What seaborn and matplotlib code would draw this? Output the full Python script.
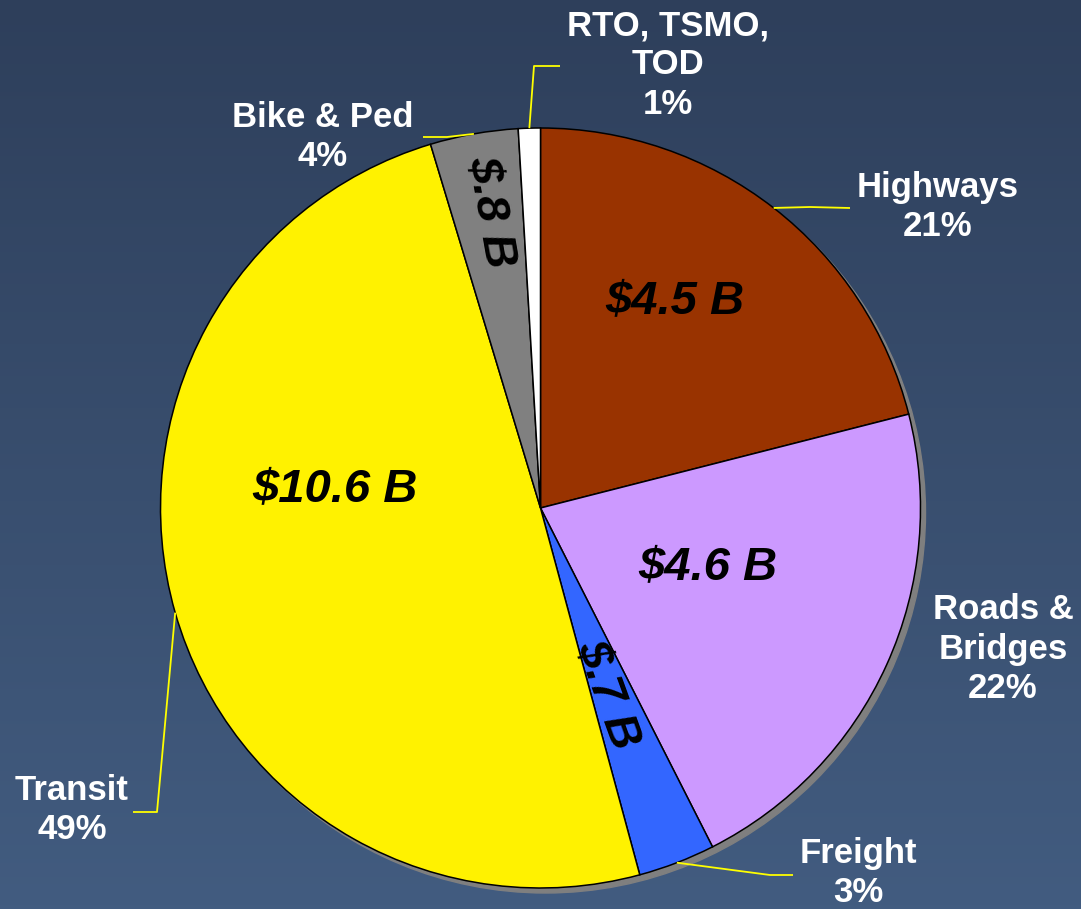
"""
Funding split pie chart (transport plan), dark blue slide background.
"""
import numpy as np
import matplotlib
matplotlib.use("Agg")
import matplotlib.pyplot as plt
from matplotlib.patches import Circle
import seaborn as sns

# data, clockwise from 12 o'clock
categories = ["Highways", "Roads &\nBridges", "Freight", "Transit", "Bike & Ped", "RTO, TSMO,\nTOD"]
billions = [4.5, 4.6, 0.7, 10.6, 0.8, 0.2]
pct_labels = ["21%", "22%", "3%", "49%", "4%", "1%"]
amount_labels = ["$4.5 B", "$4.6 B", "$.7 B", "$10.6 B", "$.8 B", ""]
colors = ["#993300", "#CC99FF", "#3366FF", "#FFF200", "#808080", "#FFFFFF"]

W, H = 1081, 909

sns.set_style("white")
plt.rcParams["font.family"] = ["Liberation Sans", "DejaVu Sans"]


def Y(y):
    # read positions are top-down pixels
    return H - y


fig = plt.figure(figsize=(W / 100, H / 100), dpi=100)
ax = fig.add_axes([0, 0, 1, 1])

# vertical gradient background
grad = np.linspace(0, 1, 256)[:, None]
top = np.array([0x2E, 0x3F, 0x5B]) / 255
bot = np.array([0x42, 0x5C, 0x80]) / 255
img = top + (bot - top) * grad[..., None]
ax.imshow(img, extent=[0, W, 0, H], aspect="auto", origin="upper", zorder=0)

cx, cy, r = 540.5, Y(508), 380

# drop shadow
ax.add_patch(Circle((cx + 5, cy - 5), r, color="#7F7F7F", zorder=1))

wedges, _ = ax.pie(billions, colors=colors, startangle=90, counterclock=False,
                   center=(cx, cy), radius=r,
                   wedgeprops=dict(edgecolor="black", linewidth=1.1, zorder=2))
for w in wedges:
    w.set_zorder(2)

# amounts inside the slices (x, y, rotation)
inner_pos = [(675, 302, 0), (708, 568, 0), (607, 695, -70), (335, 490, 0), (490, 212, -80), None]
for txt, pos in zip(amount_labels, inner_pos):
    if pos is None:
        continue
    ax.text(pos[0], Y(pos[1]), txt, rotation=pos[2], rotation_mode="anchor",
            ha="center", va="center", fontsize=34, fontweight="bold",
            fontstyle="italic", color="black", parse_math=False, zorder=4)

# outer labels and leader elbows
outer_pos = [(938, 207), (1003, 649), (858, 873), (72, 810), (323, 137), (668, 65)]
elbows = [(810, 207), None, (770, 875), (157, 812), (447, 137), (534, 66)]
ends = [(850, 208), None, (793, 875), (133, 812), (423, 137), (560, 66)]
for w, cat, pct, pos, el, en in zip(wedges, categories, pct_labels, outer_pos, elbows, ends):
    ax.text(pos[0], Y(pos[1]), f"{cat}\n{pct}", ha="center", va="center",
            fontsize=25, fontweight="bold", color="white", linespacing=1.24,
            parse_math=False, zorder=4)
    if el is None:
        continue
    mid = np.deg2rad((w.theta1 + w.theta2) / 2)
    sx, sy = cx + r * np.cos(mid), cy + r * np.sin(mid)
    ax.plot([sx, el[0], en[0]], [sy, Y(el[1]), Y(en[1])], color="#FFFF00",
            lw=1.3, zorder=3, solid_capstyle="butt")

ax.set_xlim(0, W)
ax.set_ylim(0, H)
ax.set_aspect("auto")
ax.axis("off")

fig.savefig("out.png", dpi=100)
